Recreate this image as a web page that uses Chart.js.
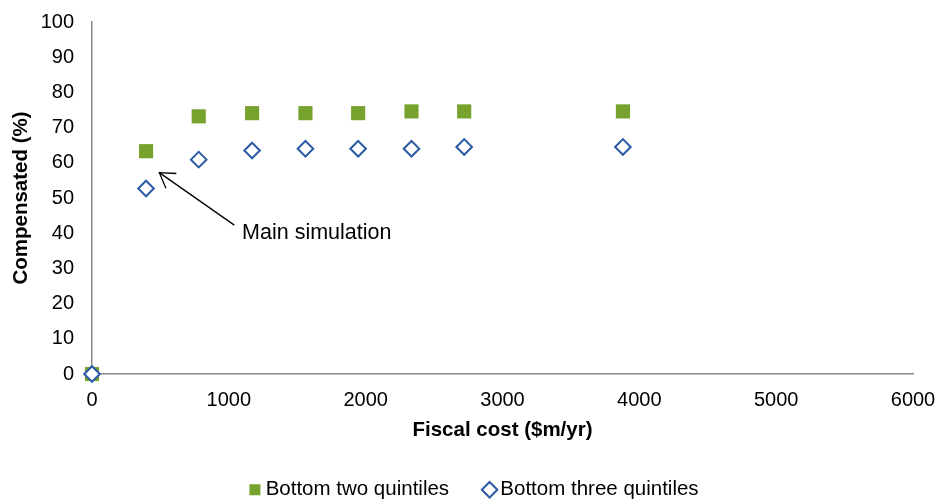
<!DOCTYPE html>
<html>
<head>
<meta charset="utf-8">
<script src="https://cdn.jsdelivr.net/npm/chart.js@4.4.0/dist/chart.umd.min.js"></script>
<style>
  html, body { margin: 0; padding: 0; background: #fff; overflow: hidden; }
  #wrap { width: 940px; height: 501px; }
</style>
</head>
<body>
<div id="wrap"><canvas id="myChart"></canvas></div>
<script>
// ============================================
// Data
// ============================================

const fiscalCost = [0, 395, 780, 1170, 1560, 1945, 2335, 2720, 3880];
const bottomTwo = [0, 63.3, 73.2, 74.1, 74.1, 74.1, 74.6, 74.6, 74.6];
const bottomThree = [0, 52.7, 60.9, 63.5, 64.0, 64.0, 64.0, 64.5, 64.5];
const seriesNames = ['Bottom two quintiles', 'Bottom three quintiles'];
const xTicks = [0, 1000, 2000, 3000, 4000, 5000, 6000];
const yTicks = [0, 10, 20, 30, 40, 50, 60, 70, 80, 90, 100];

// Annotation, in data units
const noteText = 'Main simulation';
const noteAt = [1097, 40];
const arrowFrom = [1040, 42.3];
const arrowTo = [492, 57.2];

const FONT = '"Liberation Sans", Arial, sans-serif';
const GREEN = '#77A22D';
const BLUE = '#2C5BA6';
const AXIS = '#8a8a8a';

function toPoints(xs, ys) {
	return xs.map((x, i) => ({ x: x, y: ys[i] }));
}

// ============================================
// Annotation plugin: arrow + label
// ============================================

const notePlugin = {
	id: 'note',
	afterDatasetsDraw(chart) {
		const { ctx, scales: { x, y } } = chart;
		const x0 = x.getPixelForValue(arrowFrom[0]);
		const y0 = y.getPixelForValue(arrowFrom[1]);
		const x1 = x.getPixelForValue(arrowTo[0]);
		const y1 = y.getPixelForValue(arrowTo[1]);
		ctx.save();
		ctx.strokeStyle = '#000';
		ctx.lineWidth = 1.3;
		ctx.beginPath();
		ctx.moveTo(x0, y0);
		ctx.lineTo(x1, y1);
		ctx.stroke();
		const ang = Math.atan2(y0 - y1, x0 - x1);
		const head = 17, spread = 0.56;
		ctx.beginPath();
		ctx.moveTo(x1 + head * Math.cos(ang - spread), y1 + head * Math.sin(ang - spread));
		ctx.lineTo(x1, y1);
		ctx.lineTo(x1 + head * Math.cos(ang + spread), y1 + head * Math.sin(ang + spread));
		ctx.stroke();
		ctx.fillStyle = '#000';
		ctx.font = '21.5px ' + FONT;
		ctx.textAlign = 'left';
		ctx.textBaseline = 'middle';
		ctx.fillText(noteText, x.getPixelForValue(noteAt[0]), y.getPixelForValue(noteAt[1]));
		ctx.restore();
	}
};

// Nudge the legend row a little to the right, as in the original
const legendShift = {
	id: 'legendShift',
	afterLayout(chart) {
		if (chart.legend) {
			chart.legend.left += 20;
			chart.legend.right += 20;
		}
	}
};

// ============================================
// Chart
// ============================================

new Chart(document.getElementById('myChart'), {
	type: 'scatter',
	data: {
		datasets: [{
			label: seriesNames[0],
			data: toPoints(fiscalCost, bottomTwo),
			pointStyle: 'rect',
			pointRadius: 10,
			pointHoverRadius: 10,
			backgroundColor: GREEN,
			borderColor: GREEN,
			borderWidth: 0,
			order: 1,
			clip: false
		}, {
			label: seriesNames[1],
			data: toPoints(fiscalCost, bottomThree),
			pointStyle: 'rectRot',
			pointRadius: 7.8,
			pointHoverRadius: 7.8,
			backgroundColor: '#fff',
			borderColor: BLUE,
			borderWidth: 2,
			order: 0,
			clip: false
		}]
	},
	options: {
		responsive: true,
		maintainAspectRatio: false,
		animation: false,
		layout: { padding: { top: 22, right: 27, left: 0, bottom: -9 } },
		scales: {
			x: {
				type: 'linear',
				min: 0,
				max: 6000,
				afterBuildTicks: scale => { scale.ticks = xTicks.map(v => ({ value: v })); },
				afterFit: scale => {
					scale.height = 65.5;
					scale.paddingLeft = 0;
					scale.paddingRight = 0;
				},
				grid: { display: false, drawTicks: false },
				border: { display: true, color: AXIS, width: 1.5 },
				ticks: {
					color: '#000',
					padding: 14,
					font: { family: FONT, size: 20 },
					callback: v => String(v)
				},
				title: {
					display: true,
					text: 'Fiscal cost ($m/yr)',
					color: '#000',
					padding: { top: 0, bottom: -3 },
					font: { family: FONT, size: 20.5, weight: 'bold' }
				}
			},
			y: {
				type: 'linear',
				min: 0,
				max: 100,
				afterBuildTicks: scale => { scale.ticks = yTicks.map(v => ({ value: v })); },
				afterFit: scale => {
					scale.width = 92;
					scale.paddingTop = 0;
					scale.paddingBottom = 0;
				},
				grid: { display: false, drawTicks: false },
				border: { display: true, color: AXIS, width: 1.5 },
				ticks: {
					color: '#000',
					padding: 18,
					font: { family: FONT, size: 20 },
					callback: v => String(v)
				},
				title: {
					display: true,
					text: 'Compensated (%)',
					color: '#000',
					padding: { top: 9, bottom: 0 },
					font: { family: FONT, size: 20.5, weight: 'bold' }
				}
			}
		},
		plugins: {
			tooltip: { enabled: false },
			legend: {
				position: 'bottom',
				labels: {
					color: '#000',
					font: { family: FONT, size: 20.5 },
					usePointStyle: true,
					boxWidth: 1,
					boxHeight: 11,
					padding: 40,
					sort: (a, b) => a.datasetIndex - b.datasetIndex
				}
			}
		}
	},
	plugins: [notePlugin, legendShift]
});
</script>
</body>
</html>
